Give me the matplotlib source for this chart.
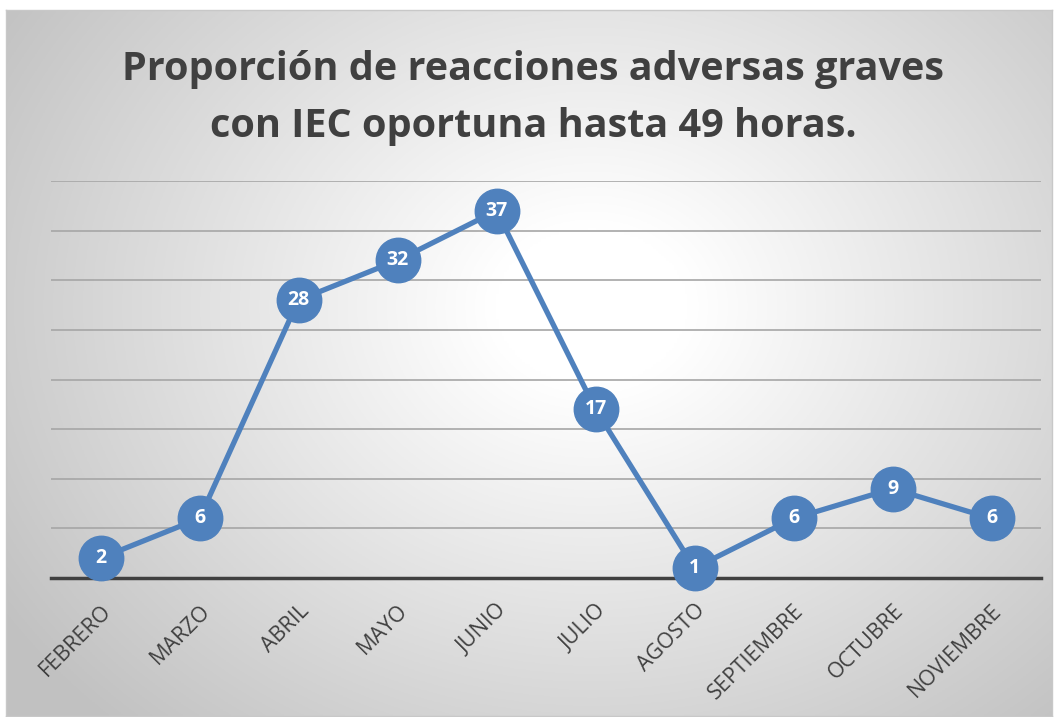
import numpy as np
import matplotlib.pyplot as plt

months = ['FEBRERO', 'MARZO', 'ABRIL', 'MAYO', 'JUNIO', 'JULIO', 'AGOSTO',
          'SEPTIEMBRE', 'OCTUBRE', 'NOVIEMBRE']
values = [2, 6, 28, 32, 37, 17, 1, 6, 9, 6]
title = 'Proporción de reacciones adversas graves\ncon IEC oportuna hasta 49 horas.'

blue = '#4f81bd'
W, H = 1058, 717
fig = plt.figure(figsize=(W / 100, H / 100), dpi=100)
fig.patch.set_facecolor('white')

# chart area with radial gradient background
x0, y0, x1, y1 = 6, 10, 1052, 716
bg = fig.add_axes([x0 / W, 1 - y1 / H, (x1 - x0) / W, (y1 - y0) / H])
gx, gy = np.meshgrid(np.linspace(0, 1, 400), np.linspace(0, 1, 300))
r = np.sqrt(((gx - 0.56) / 0.62) ** 2 + ((gy - 0.42) / 0.75) ** 2)
shade = np.clip(1 - 0.22 * np.clip(r - 0.15, 0, None) / 0.85, 0.76, 1)
bg.imshow(np.dstack([shade] * 3), aspect='auto', extent=[0, 1, 0, 1])
bg.set_xticks([])
bg.set_yticks([])
for s in bg.spines.values():
    s.set_color('#c8c8c8')
    s.set_linewidth(1)

# plot area
px0, px1, ptop, pbot = 51, 1041, 181, 578
ax = fig.add_axes([px0 / W, 1 - pbot / H, (px1 - px0) / W, (pbot - ptop) / H])
ax.patch.set_alpha(0)
x = np.arange(len(months))
ax.set_xlim(-0.5, len(months) - 0.5)
ax.set_ylim(0, 40)
ax.set_yticks(np.arange(5, 41, 5))
ax.yaxis.grid(True, color='#a6a6a6', linewidth=1.2)
ax.tick_params(axis='y', left=False, labelleft=False)
ax.tick_params(axis='x', length=0, pad=16)
for s in ['top', 'right', 'left']:
    ax.spines[s].set_visible(False)
ax.spines['bottom'].set_color('#404040')
ax.spines['bottom'].set_linewidth(2.5)
ax.set_axisbelow(True)

ax.plot(x, values, color=blue, linewidth=3.8, marker='o', markersize=32,
        markerfacecolor=blue, markeredgecolor=blue, clip_on=False, zorder=3)
for xi, v in zip(x, values):
    ax.text(xi, v, str(v), ha='center', va='center', color='white',
            fontsize=14, fontweight='bold', family='Open Sans', zorder=4)

ax.set_xticks(x)
ax.set_xticklabels(months, rotation=45, ha='right', rotation_mode='anchor',
                   fontsize=15.5, color='#404040', family='Open Sans')

fig.text(533 / W, 1 - 98 / H, title, ha='center', va='center',
         fontsize=28.5, fontweight='bold', color='#404040', family='Open Sans',
         linespacing=1.6)

fig.savefig('out.png', dpi=100)
